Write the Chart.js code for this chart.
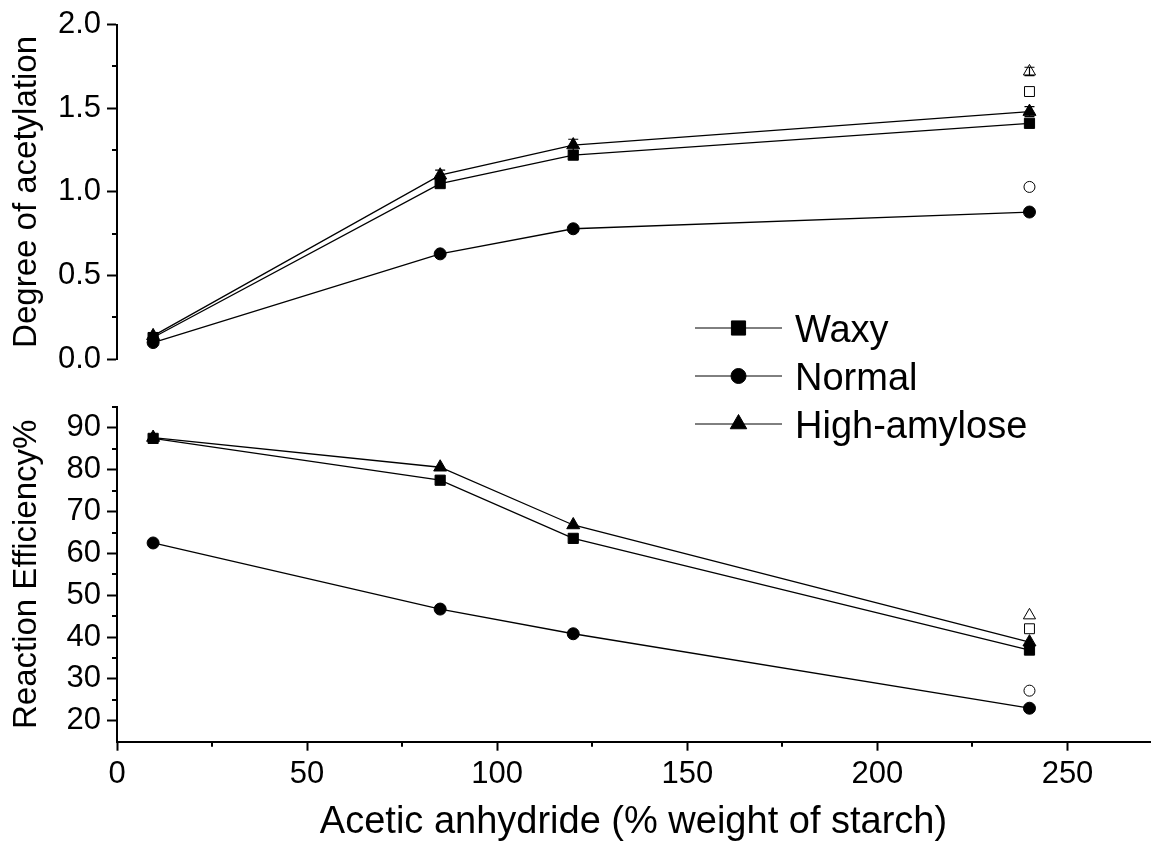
<!DOCTYPE html>
<html><head><meta charset="utf-8">
<script src="https://cdn.jsdelivr.net/npm/chart.js@4.4.0/dist/chart.umd.min.js"></script>
<style>
html,body{margin:0;padding:0;background:#fff;}
#wrap{position:relative;width:1152px;height:848px;overflow:hidden;background:#fff;}
canvas{position:absolute;left:0;top:0;}
</style></head><body>
<div id="wrap">
<canvas id="topChart" width="1152" height="848"></canvas>
<canvas id="botChart" width="1152" height="848"></canvas>
</div>
<script>
// ---- data ----
const anhydride = [9.5, 85, 120, 240];
const dsWaxy = [0.13, 1.05, 1.22, 1.41];
const dsNormal = [0.10, 0.63, 0.78, 0.88];
const dsHigh = [0.14, 1.10, 1.28, 1.48];
const dsHighErr = [0.02, 0.03, 0.035, 0.03];
const openX = [240];
const dsOpenWaxy = [1.60];
const dsOpenNormal = [1.03];
const dsOpenHigh = [1.72];
const dsOpenHighErr = [0.025];
const reWaxy = [87.5, 77.5, 63.6, 36.9];
const reNormal = [62.5, 46.7, 40.8, 23.0];
const reHigh = [87.7, 80.6, 66.8, 38.8];
const reOpenWaxy = [42.0];
const reOpenNormal = [27.2];
const reOpenHigh = [45.2];
const seriesNames = ['Waxy', 'Normal', 'High-amylose'];
const xTicks = [0, 50, 100, 150, 200, 250];
const xMinor = [25, 75, 125, 175, 225];
const dsTicks = [0.0, 0.5, 1.0, 1.5, 2.0];
const dsMinor = [0.25, 0.75, 1.25, 1.75];
const reTicks = [20, 30, 40, 50, 60, 70, 80, 90];
const reMinor = [25, 35, 45, 55, 65, 75, 85, 95];

const FONT = "'Liberation Sans', Arial, sans-serif";
Chart.defaults.font.family = FONT;
Chart.defaults.color = '#000';

function mk(label, xs, ys, style, radius, filled, errs) {
  return {
    label, data: xs.map((x, i) => ({x, y: ys[i]})),
    showLine: xs.length > 1, borderColor: '#000', borderWidth: 1.3,
    pointStyle: style, pointRadius: radius, pointHoverRadius: radius,
    pointBackgroundColor: filled ? '#000' : '#fff', pointBorderColor: '#000',
    pointBorderWidth: 1, tension: 0, clip: false, errors: errs || null
  };
}

const extras = {
  id: 'extras',
  afterDatasetsDraw(chart) {
    const ctx = chart.ctx;
    const ys = chart.scales.y;
    const xs = chart.scales.x;
    ctx.save();
    ctx.strokeStyle = '#000';
    ctx.lineWidth = 1.2;
    chart.data.datasets.forEach(d => {
      if (!d.errors) return;
      d.data.forEach((p, i) => {
        const e = d.errors[i];
        const px = xs.getPixelForValue(p.x);
        const y1 = ys.getPixelForValue(p.y + e), y2 = ys.getPixelForValue(p.y - e);
        ctx.beginPath();
        ctx.moveTo(px, y1); ctx.lineTo(px, y2);
        ctx.moveTo(px - 5, y1); ctx.lineTo(px + 5, y1);
        ctx.moveTo(px - 5, y2); ctx.lineTo(px + 5, y2);
        ctx.stroke();
      });
    });
    ctx.restore();
  },
  afterDraw(chart, args, opts) {
    const ctx = chart.ctx;
    const ca = chart.chartArea;
    ctx.save();
    ctx.strokeStyle = '#000';
    ctx.lineWidth = 2;
    (opts.yMinor || []).forEach(v => {
      const py = Math.round(chart.scales.y.getPixelForValue(v));
      ctx.beginPath(); ctx.moveTo(ca.left - 5, py); ctx.lineTo(ca.left, py); ctx.stroke();
    });
    (opts.xMinor || []).forEach(v => {
      const px = Math.round(chart.scales.x.getPixelForValue(v));
      ctx.beginPath(); ctx.moveTo(px, ca.bottom); ctx.lineTo(px, ca.bottom + 5); ctx.stroke();
    });
    if (opts.legend) {
      const styles = ['rect', 'circle', 'triangle'];
      const radii = [10, 7.5, 9.5];
      const rowY = [328, 376, 424];
      ctx.font = '38px ' + FONT;
      ctx.fillStyle = '#000';
      ctx.textBaseline = 'alphabetic';
      ctx.textAlign = 'left';
      seriesNames.forEach((n, i) => {
        ctx.strokeStyle = '#000';
        ctx.lineWidth = 1;
        ctx.beginPath(); ctx.moveTo(695, rowY[i]); ctx.lineTo(782, rowY[i]); ctx.stroke();
        ctx.fillStyle = '#000';
        Chart.helpers.drawPoint(ctx, {pointStyle: styles[i], radius: radii[i], borderWidth: 1}, 738.5, rowY[i]);
        ctx.fillText(n, 795, rowY[i] + 13.5);
      });
    }
    ctx.restore();
  }
};

function yAxis(min, max, ticks, title, fmt) {
  return {
    type: 'linear', min, max,
    afterBuildTicks: s => { s.ticks = ticks.map(v => ({value: v})); },
    afterFit: s => { s.width = 117; },
    ticks: {callback: fmt, font: {size: 31}, color: '#000', padding: 6},
    grid: {drawOnChartArea: false, drawTicks: true, tickLength: 10, tickWidth: 2, tickColor: '#000'},
    border: {display: true, color: '#000', width: 2},
    title: {display: true, text: title, font: {size: 33}, color: '#000', padding: {top: 7, bottom: 0}}
  };
}

const common = {
  responsive: false, animation: false, events: [],
  plugins: {legend: {display: false}, tooltip: {enabled: false}}
};

new Chart(document.getElementById('topChart'), {
  type: 'scatter',
  data: {datasets: [
    mk(seriesNames[0], anhydride, dsWaxy, 'rect', 7.2, true),
    mk(seriesNames[1], anhydride, dsNormal, 'circle', 6, true),
    mk(seriesNames[2], anhydride, dsHigh, 'triangle', 7.5, true, dsHighErr),
    mk('Waxy (open)', openX, dsOpenWaxy, 'rect', 7, false),
    mk('Normal (open)', openX, dsOpenNormal, 'circle', 5.5, false),
    mk('High-amylose (open)', openX, dsOpenHigh, 'triangle', 7, false, dsOpenHighErr)
  ]},
  options: Object.assign({}, common, {
    layout: {autoPadding: false, padding: {left: 0, right: 2, top: 24, bottom: 848 - 359.3}},
    scales: {
      x: {type: 'linear', min: 0, max: 271.7, display: false},
      y: yAxis(0, 2, dsTicks, 'Degree of acetylation', v => v.toFixed(1))
    },
    plugins: Object.assign({}, common.plugins, {extras: {yMinor: dsMinor}})
  }),
  plugins: [extras]
});

new Chart(document.getElementById('botChart'), {
  type: 'scatter',
  data: {datasets: [
    mk(seriesNames[0], anhydride, reWaxy, 'rect', 7.2, true),
    mk(seriesNames[1], anhydride, reNormal, 'circle', 6, true),
    mk(seriesNames[2], anhydride, reHigh, 'triangle', 7.5, true),
    mk('Waxy (open)', openX, reOpenWaxy, 'rect', 7, false),
    mk('Normal (open)', openX, reOpenNormal, 'circle', 5.5, false),
    mk('High-amylose (open)', openX, reOpenHigh, 'triangle', 7, false)
  ]},
  options: Object.assign({}, common, {
    layout: {autoPadding: false, padding: {left: 0, right: 2, top: 407, bottom: 0}},
    scales: {
      x: {
        type: 'linear', min: 0, max: 271.7,
        afterBuildTicks: s => { s.ticks = xTicks.map(v => ({value: v})); },
        afterFit: s => { s.height = 848 - 741.7; },
        ticks: {font: {size: 31}, color: '#000', padding: 5, maxRotation: 0, callback: v => String(v)},
        grid: {drawOnChartArea: false, drawTicks: true, tickLength: 9, tickWidth: 2, tickColor: '#000'},
        border: {display: true, color: '#000', width: 2},
        title: {display: true, text: 'Acetic anhydride (% weight of starch)', font: {size: 38}, color: '#000', padding: {top: 0, bottom: 3}}
      },
      y: yAxis(15, 95, reTicks, 'Reaction Efficiency%', v => String(v))
    },
    plugins: Object.assign({}, common.plugins, {extras: {yMinor: reMinor, xMinor: xMinor, legend: true}})
  }),
  plugins: [extras]
});
</script>
</body></html>
